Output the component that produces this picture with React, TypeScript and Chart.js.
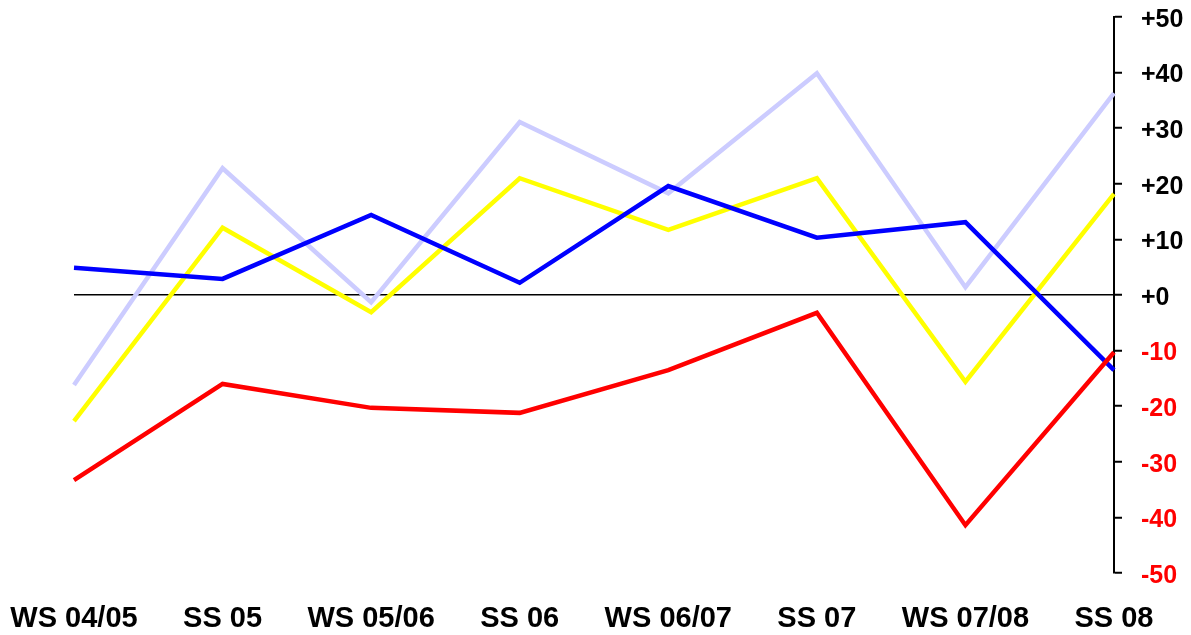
import React, { useEffect, useRef } from "react";
import { Chart, registerables } from "chart.js";

Chart.register(...registerables);

const categories = ["WS 04/05", "SS 05", "WS 05/06", "SS 06", "WS 06/07", "SS 07", "WS 07/08", "SS 08"];
const lavenderSeries = [-16.2, 22.8, -1.3, 31.1, 18.3, 39.9, 1.4, 36.3];
const yellowSeries = [-22.7, 12.1, -3.1, 21.0, 11.7, 21.0, -15.6, 18.2];
const blueSeries = [4.9, 2.9, 14.4, 2.2, 19.6, 10.3, 13.1, -13.5];
const redSeries = [-33.3, -16.0, -20.3, -21.2, -13.5, -3.2, -41.4, -10.3];
const yMin = -50;
const yMax = 50;
const yStep = 10;

export default function App() {
  const ref = useRef<HTMLCanvasElement | null>(null);
  useEffect(() => {
    if (!ref.current) return;
    const mk = (data: number[], color: string) => ({
      data,
      borderColor: color,
      backgroundColor: color,
      borderWidth: 4.5,
      pointRadius: 0,
      tension: 0,
      fill: false,
      borderJoinStyle: "miter" as const,
      borderCapStyle: "butt" as const,
    });
    const chart = new Chart(ref.current, {
      type: "line",
      data: {
        labels: categories,
        datasets: [
          mk(redSeries, "#ff0000"),
          mk(blueSeries, "#0000ff"),
          mk(yellowSeries, "#ffff00"),
          mk(lavenderSeries, "#ccccff"),
        ],
      },
      options: {
        animation: false,
        responsive: false,
        maintainAspectRatio: false,
        layout: { padding: { left: 74, top: 17, right: 0, bottom: 0 } },
        plugins: { legend: { display: false }, tooltip: { enabled: false } },
        scales: {
          x: {
            offset: false,
            grid: { display: false },
            border: { display: false },
            ticks: {
              color: "#000",
              font: { family: "'Liberation Sans', Arial, sans-serif", size: 29, weight: "bold" },
              padding: 21,
              maxRotation: 0,
              autoSkip: false,
            },
            afterFit: (s: any) => {
              s.height = 62;
              s.paddingLeft = 0;
              s.paddingRight = 0;
            },
          },
          y: {
            position: "right",
            min: yMin,
            max: yMax,
            grid: {
              drawOnChartArea: true,
              color: (ctx: any) => (ctx.tick && ctx.tick.value === 0 ? "#000" : "rgba(0,0,0,0)"),
              lineWidth: 1.5,
              tickColor: "#000",
              tickLength: 8,
              tickWidth: 2,
            },
            border: { display: true, color: "#000", width: 2 },
            ticks: {
              stepSize: yStep,
              padding: 19,
              labelOffset: 3,
              color: (ctx: any) => (ctx.tick && ctx.tick.value < 0 ? "#ff0000" : "#000"),
              font: { family: "'Liberation Sans', Arial, sans-serif", size: 25, weight: "bold" },
              callback: (v: any) => (Number(v) >= 0 ? "+" + v : String(v)),
            },
            afterFit: (s: any) => {
              s.width = 77;
              s.paddingTop = 0;
              s.paddingBottom = 0;
            },
          },
        },
      },
    });
    return () => chart.destroy();
  }, []);
  return (
    <div style={{ position: "absolute", left: 0, top: 0, width: 1191, height: 635, background: "#fff" }}>
      <canvas ref={ref} width={1191} height={635} style={{ display: "block" }} />
    </div>
  );
}
